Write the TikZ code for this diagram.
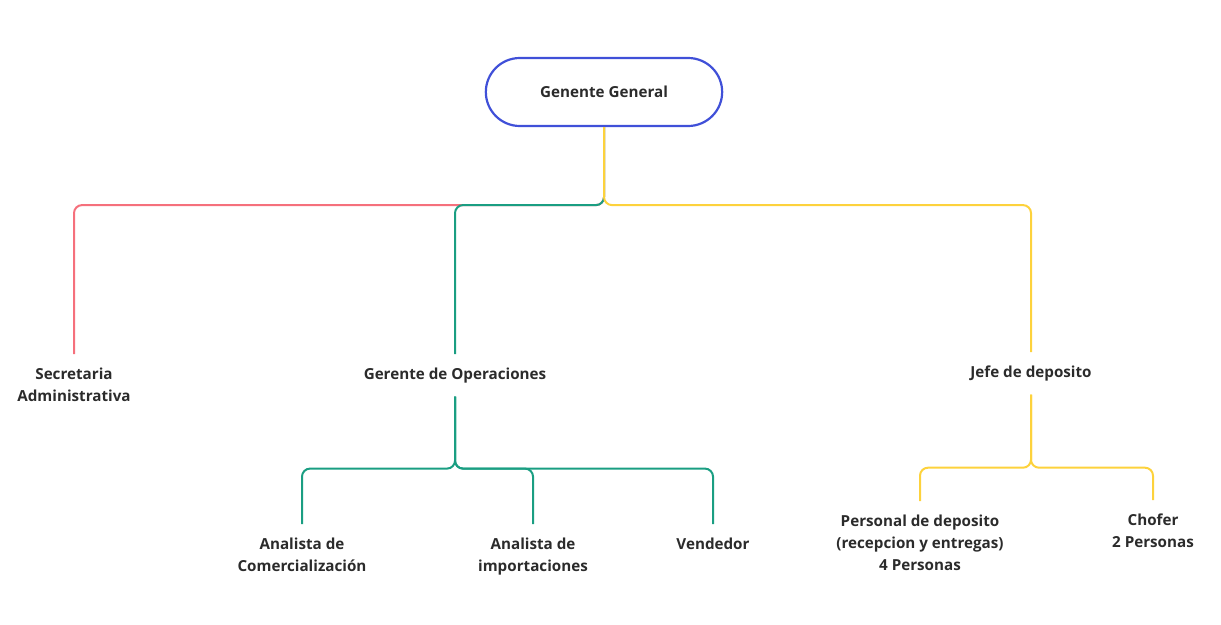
\documentclass[tikz,border=0pt]{standalone}
\usepackage{fontspec}
\setmainfont{Open Sans}
\usetikzlibrary{shapes.misc}
\definecolor{ggblue}{HTML}{4050D8}
\definecolor{redln}{HTML}{F5707C}
\definecolor{greenln}{HTML}{1A9E82}
\definecolor{yellowln}{HTML}{FDD23C}
\definecolor{txt}{HTML}{2B2B2B}

\begin{document}
\begin{tikzpicture}[x=1pt, y=-1pt,
    label/.style={font=\fontsize{15.2}{22}\selectfont\bfseries, text=txt, align=center, inner xsep=2pt, inner ysep=13.5pt, anchor=north},
    topbox/.style={draw=ggblue, line width=2.2pt, rounded rectangle, minimum width=243pt, minimum height=68pt, font=\fontsize{15.2}{22}\selectfont\bfseries, text=txt},
    link/.style={line width=2pt, rounded corners=8pt}]
    \useasboundingbox (0,0) rectangle (1221,624);

    % Top of the chart
    \node[topbox] (gg) at (604,92) {Genente General};

    % First level
    \node[label] (sec) at (74,354) {Secretaria\\Administrativa};
    \node[label] (gop) at (455,354) {Gerente de Operaciones};
    \node[label] (jefe) at (1031,352) {Jefe de deposito};

    % Second level
    \node[label] (ana1) at (302,524) {Analista de\\Comercialización};
    \node[label] (ana2) at (533,524) {Analista de\\importaciones};
    \node[label] (vend) at (713,524) {Vendedor};
    \node[label] (per) at (920,501) {Personal de deposito\\(recepcion y entregas)\\4 Personas};
    \node[label] (cho) at (1153,500) {Chofer\\2 Personas};

    % Links from the top
    \draw[link, redln] (gg.south) -- ++(0,78) -| (sec.north);
    \draw[link, greenln] (gg.south) -- ++(0,78) -| (gop.north);
    \draw[link, yellowln] (gg.south) -- ++(0,78) -| (jefe.north);

    % Operaciones
    \draw[link, greenln] (gop.south) -- ++(0,72) -| (ana1.north);
    \draw[link, greenln] (gop.south) -- ++(0,72) -| (ana2.north);
    \draw[link, greenln] (gop.south) -- ++(0,72) -| (vend.north);

    % Deposito
    \draw[link, yellowln] (jefe.south) -- ++(0,73) -| (per.north);
    \draw[link, yellowln] (jefe.south) -- ++(0,73) -| (cho.north);
\end{tikzpicture}
\end{document}
